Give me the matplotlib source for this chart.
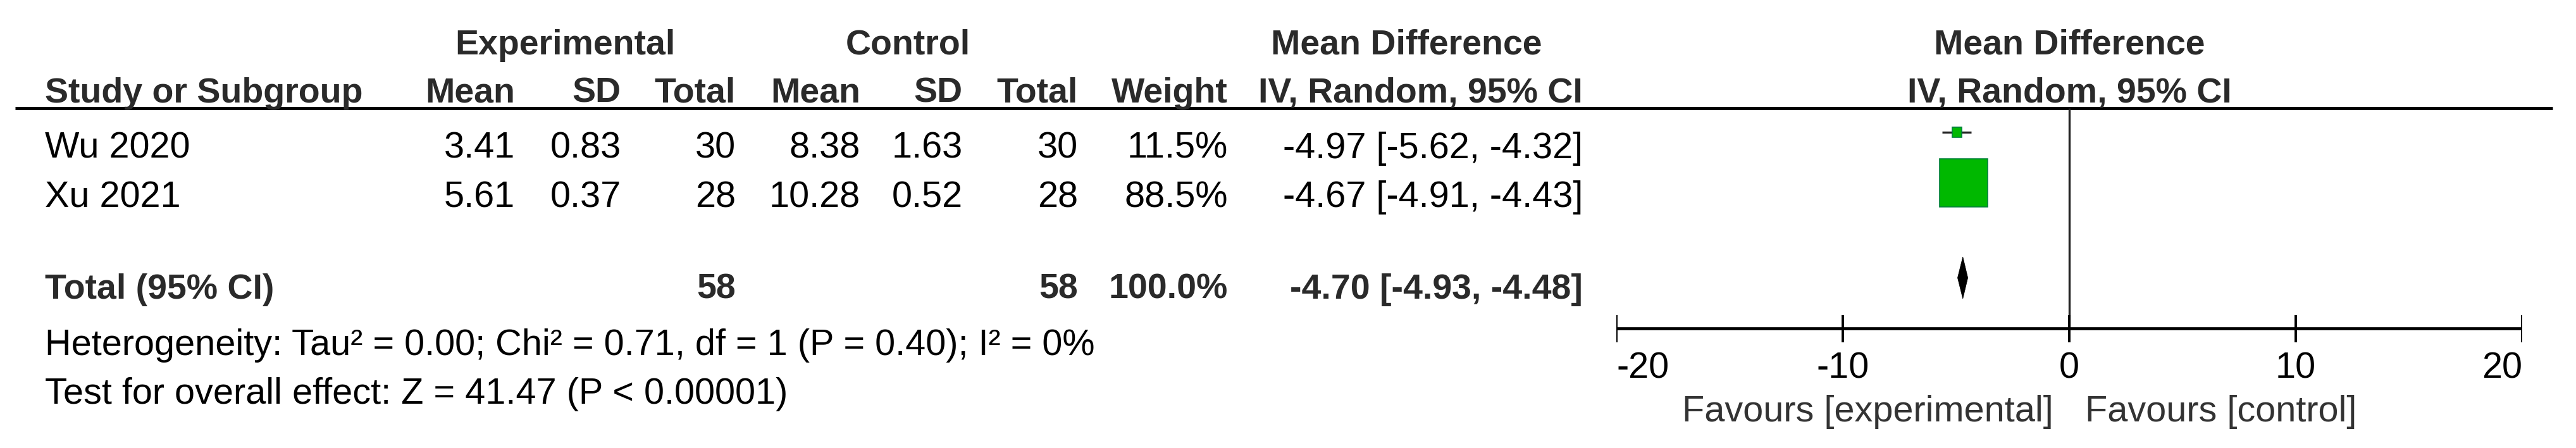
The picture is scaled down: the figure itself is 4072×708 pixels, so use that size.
import matplotlib
matplotlib.use("Agg")
import matplotlib.pyplot as plt
from matplotlib.patches import Rectangle, Polygon

plt.rcParams['font.family'] = ['Liberation Sans', 'DejaVu Sans']

# データ
studies = ["Wu 2020", "Xu 2021"]
exp_mean = [3.41, 5.61]
exp_sd = [0.83, 0.37]
exp_n = [30, 28]
ctl_mean = [8.38, 10.28]
ctl_sd = [1.63, 0.52]
ctl_n = [30, 28]
weights = [11.5, 88.5]
md = [-4.97, -4.67]
ci_lo = [-5.62, -4.91]
ci_hi = [-4.32, -4.43]
total_md, total_lo, total_hi = -4.70, -4.93, -4.48
total_exp_n, total_ctl_n = 58, 58
total_weight = 100.0
heterogeneity = "Heterogeneity: Tau² = 0.00; Chi² = 0.71, df = 1 (P = 0.40); I² = 0%"
overall = "Test for overall effect: Z = 41.47 (P < 0.00001)"
ticks = [-20, -10, 0, 10, 20]

# レイアウト (px)
W, H = 4072, 708
FS = 40      # 太字
FSN = 41.5   # 標準
HEAD = '#2a2a2a'
row_base = [250, 327]        # テキストのベースライン
mark_y = [209, 289]          # マーカーの中心
total_base = 472
diamond_y, diamond_h = 439, 33
cols = [814, 982, 1163, 1360, 1522, 1704, 1941, 2502]  # 右寄せ位置
plot_l, plot_r = 2555, 3987
line_y, axis_y = 171, 519

fig = plt.figure(figsize=(W / 100, H / 100), dpi=100)
ax = fig.add_axes([0, 0, 1, 1])
ax.set_xlim(0, W)
ax.set_ylim(H, 0)
ax.axis('off')

# ヘッダー
ax.text(893, 86, "Experimental", ha='center', va='baseline', fontsize=FS, fontweight='bold', color=HEAD)
ax.text(1435, 86, "Control", ha='center', va='baseline', fontsize=FS, fontweight='bold', color=HEAD)
ax.text(2223, 86, "Mean Difference", ha='center', va='baseline', fontsize=FS, fontweight='bold', color=HEAD)
ax.text(71, 162, "Study or Subgroup", ha='left', va='baseline', fontsize=FS, fontweight='bold', color=HEAD)
for x, lab in zip(cols, ["Mean", "SD", "Total", "Mean", "SD", "Total", "Weight", "IV, Random, 95% CI"]):
    ax.text(x, 162, lab, ha='right', va='baseline', fontsize=FS, fontweight='bold', color=HEAD)
ax.plot([24, 4035], [line_y, line_y], color='black', lw=3.6, solid_capstyle='butt')

# 各研究
for i, name in enumerate(studies):
    y = row_base[i]
    ax.text(71, y, name, ha='left', va='baseline', fontsize=FSN)
    vals = ["%.2f" % exp_mean[i], "%.2f" % exp_sd[i], "%d" % exp_n[i],
            "%.2f" % ctl_mean[i], "%.2f" % ctl_sd[i], "%d" % ctl_n[i],
            "%.1f%%" % weights[i], "%.2f [%.2f, %.2f]" % (md[i], ci_lo[i], ci_hi[i])]
    for x, v in zip(cols, vals):
        ax.text(x, y, v, ha='right', va='baseline', fontsize=FSN)

# 合計
ax.text(71, total_base, "Total (95% CI)", ha='left', va='baseline', fontsize=FS, fontweight='bold', color=HEAD)
for x, v in zip([cols[2], cols[5], cols[6], cols[7]],
                ["%d" % total_exp_n, "%d" % total_ctl_n, "%.1f%%" % total_weight,
                 "%.2f [%.2f, %.2f]" % (total_md, total_lo, total_hi)]):
    ax.text(x, total_base, v, ha='right', va='baseline', fontsize=FS, fontweight='bold', color=HEAD)
ax.text(71, 561, heterogeneity, ha='left', va='baseline', fontsize=FSN)
ax.text(71, 638, overall, ha='left', va='baseline', fontsize=FSN)

# フォレストプロット
fa = fig.add_axes([plot_l / W, 0, (plot_r - plot_l) / W, 1])
fa.set_xlim(ticks[0], ticks[-1])
fa.set_ylim(H, 0)
fa.axis('off')
px = (plot_r - plot_l) / (ticks[-1] - ticks[0])  # px / unit

fa.text(0, 86, "Mean Difference", ha='center', va='baseline', fontsize=FS, fontweight='bold', color=HEAD)
fa.text(0, 162, "IV, Random, 95% CI", ha='center', va='baseline', fontsize=FS, fontweight='bold', color=HEAD)

fa.vlines(0, line_y, axis_y, color='#222222', lw=2.4)
for i in range(len(studies)):
    y = mark_y[i]
    fa.hlines(y, ci_lo[i], ci_hi[i], color='#222222', lw=2.4, zorder=2)
    s = 6 + 70 * weights[i] / max(weights)
    fa.add_patch(Rectangle((md[i] - s / px / 2, y - s / 2), s / px, s,
                           facecolor='#00b800', edgecolor='#00803a', lw=1.2, zorder=3))
fa.add_patch(Polygon([(total_lo, diamond_y), (total_md, diamond_y - diamond_h),
                      (total_hi, diamond_y), (total_md, diamond_y + diamond_h)],
                     closed=True, facecolor='black', edgecolor='black', lw=0.5, zorder=3))

# 軸
fa.hlines(axis_y, ticks[0], ticks[-1], color='black', lw=3.4)
fa.vlines(ticks, 498, 541, color='black', lw=2.8)
for k, t in enumerate(ticks):
    ha = 'left' if k == 0 else ('right' if k == len(ticks) - 1 else 'center')
    fa.text(t, 598, "%d" % t, ha=ha, va='baseline', fontsize=FSN)
fa.text(-0.7, 666, "Favours [experimental]", ha='right', va='baseline', fontsize=FSN, color='#333333')
fa.text(0.7, 666, "Favours [control]", ha='left', va='baseline', fontsize=FSN, color='#333333')

fig.savefig("out.png", dpi=100)
